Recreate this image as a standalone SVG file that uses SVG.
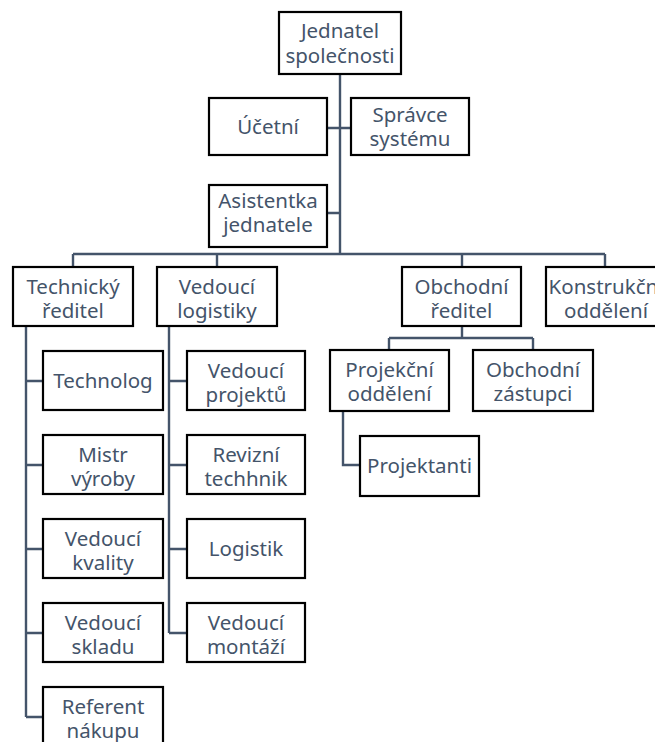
<svg xmlns="http://www.w3.org/2000/svg" width="655" height="742" viewBox="0 0 655 742">
<style>
.b{fill:#fff;stroke:#000;stroke-width:2.2}
.t{font-family:"Noto Sans","Open Sans",sans-serif;font-size:20.5px;fill:#44546A;text-anchor:middle}
.c{fill:none;stroke:#44546A;stroke-width:2.4}
</style>
<rect width="655" height="742" fill="#fff"/>
<g id="connectors">
<path class="c" d="M340 74V254M327 128H351M327 213H340M73 254H605M73 254V267M217 254V267M462 254V267M605 254V267"/>
<path class="c" d="M26 326V717M26 381H43M26 465H43M26 549H43M26 633H43M26 717H43"/>
<path class="c" d="M169 326V633M169 381H187M169 465H187M169 549H187M169 633H187"/>
<path class="c" d="M462 326V338M389 338H533M389 338V350M533 338V350M343 411V465H360"/>
</g>
<g id="n1"><rect class="b" x="279" y="12" width="122" height="62"/><text class="t" x="340" y="38">Jednatel</text><text class="t" x="340" y="63">společnosti</text></g>
<g id="n2"><rect class="b" x="209" y="98" width="118" height="57"/><text class="t" x="268" y="134">Účetní</text></g>
<g id="n3"><rect class="b" x="351" y="98" width="118" height="57"/><text class="t" x="410" y="122">Správce</text><text class="t" x="410" y="146">systému</text></g>
<g id="n4"><rect class="b" x="209" y="185" width="118" height="62"/><text class="t" x="268" y="208">Asistentka</text><text class="t" x="268" y="232">jednatele</text></g>
<g id="n5"><rect class="b" x="13" y="267" width="120" height="59"/><text class="t" x="73" y="294">Technický</text><text class="t" x="73" y="318">ředitel</text></g>
<g id="n6"><rect class="b" x="157" y="267" width="120" height="59"/><text class="t" x="217" y="294">Vedoucí</text><text class="t" x="217" y="318">logistiky</text></g>
<g id="n7"><rect class="b" x="402" y="267" width="119" height="59"/><text class="t" x="461.5" y="294">Obchodní</text><text class="t" x="461.5" y="318">ředitel</text></g>
<g id="n8"><rect class="b" x="546" y="267" width="120" height="59"/><text class="t" x="606" y="294">Konstrukční</text><text class="t" x="606" y="318">oddělení</text></g>
<g id="n9"><rect class="b" x="43" y="351" width="120" height="59"/><text class="t" x="103" y="388">Technolog</text></g>
<g id="n10"><rect class="b" x="43" y="435" width="120" height="59"/><text class="t" x="103" y="462">Mistr</text><text class="t" x="103" y="486">výroby</text></g>
<g id="n11"><rect class="b" x="43" y="519" width="120" height="59"/><text class="t" x="103" y="546">Vedoucí</text><text class="t" x="103" y="570">kvality</text></g>
<g id="n12"><rect class="b" x="43" y="603" width="120" height="59"/><text class="t" x="103" y="630">Vedoucí</text><text class="t" x="103" y="654">skladu</text></g>
<g id="n13"><rect class="b" x="43" y="687" width="120" height="59"/><text class="t" x="103" y="714">Referent</text><text class="t" x="103" y="738">nákupu</text></g>
<g id="n14"><rect class="b" x="187" y="351" width="118" height="59"/><text class="t" x="246" y="378">Vedoucí</text><text class="t" x="246" y="402">projektů</text></g>
<g id="n15"><rect class="b" x="187" y="435" width="118" height="59"/><text class="t" x="246" y="462">Revizní</text><text class="t" x="246" y="486">techhnik</text></g>
<g id="n16"><rect class="b" x="187" y="519" width="118" height="59"/><text class="t" x="246" y="556">Logistik</text></g>
<g id="n17"><rect class="b" x="187" y="603" width="118" height="59"/><text class="t" x="246" y="630">Vedoucí</text><text class="t" x="246" y="654">montáží</text></g>
<g id="n18"><rect class="b" x="330" y="350" width="119" height="61"/><text class="t" x="389.5" y="377">Projekční</text><text class="t" x="389.5" y="401">oddělení</text></g>
<g id="n19"><rect class="b" x="473" y="350" width="120" height="61"/><text class="t" x="533" y="377">Obchodní</text><text class="t" x="533" y="401">zástupci</text></g>
<g id="n20"><rect class="b" x="360" y="436" width="119" height="60"/><text class="t" x="419.5" y="473">Projektanti</text></g>
</svg>
